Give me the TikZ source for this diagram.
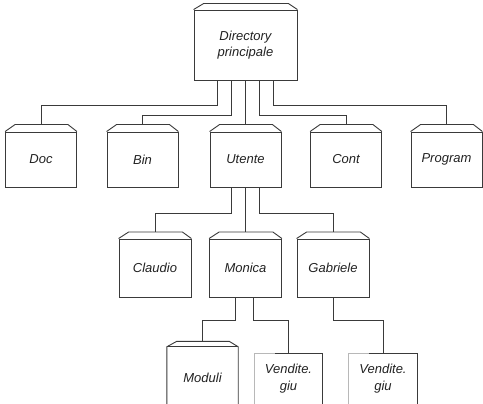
\documentclass[tikz,border=0pt]{standalone}
\usepackage{fontspec}
\setmainfont{Liberation Sans}
\definecolor{linec}{HTML}{3A3A3A}
\definecolor{txt}{HTML}{222222}
\definecolor{faint}{HTML}{B8B8B8}
\begin{document}
\begin{tikzpicture}[x=1pt,y=-1pt,
  line/.style={draw=linec, line width=0.9pt},
  lbl/.style={inner sep=0pt, align=center, text=txt,
    font=\fontsize{13}{16.5}\selectfont\itshape},
  box/.style={lbl, line, rectangle},
  top box/.style={box, minimum width=103pt, minimum height=70pt},
  lvl1/.style={box, minimum width=71pt, minimum height=55pt},
  lvl2/.style={box, minimum width=72pt, minimum height=58pt},
  openbox/.style={lbl, rectangle, draw=none}
]
\useasboundingbox (0,0) rectangle (483,404);
\fill[white] (0,0) rectangle (483,404);

% nodes
\node[top box] (top) at (245.5,45) {Directory\\principale};
\node[lvl1] (doc)     at (41,159.5)    {Doc};
\node[lvl1] (bin)     at (142.5,159.5) {Bin};
\node[lvl1] (utente)  at (245.5,159.5) {Utente};
\node[lvl1] (cont)    at (346,159.5)   {Cont};
\node[lvl1] (program) at (446.5,159.5) {Program};
\node[lvl2] (claudio)  at (155,268)   {Claudio};
\node[lvl2] (monica)   at (245.5,268) {Monica};
\node[lvl2] (gabriele) at (333,268)   {Gabriele};
\node[openbox, minimum width=71pt, minimum height=62pt] (moduli) at (202.5,378) {Moduli};
\node[openbox, minimum width=67pt, minimum height=49pt] (vend1) at (288.5,378.5) {Vendite.\\giu};
\node[openbox, minimum width=68pt, minimum height=49pt] (vend2) at (383,378.5) {Vendite.\\giu};

% lids
\foreach \n/\r in {top/6, doc/7, bin/7, utente/7, cont/7, program/7,
                   claudio/6.5, monica/6.5, gabriele/6.5}
  \draw[line] (\n.north west) -- ([xshift=10pt,yshift=\r pt]\n.north west)
     -- ([xshift=-9pt,yshift=\r pt]\n.north east) -- (\n.north east);

% open boxes at the bottom
\draw[line] ([yshift=-10pt]moduli.south west) -- (moduli.north west)
   -- ([xshift=10pt,yshift=5.5pt]moduli.north west)
   -- ([xshift=-9pt,yshift=5.5pt]moduli.north east) -- (moduli.north east)
   -- ([yshift=-10pt]moduli.south east);
\draw[line] (moduli.north west) -- (moduli.north east);
\foreach \n in {vend1, vend2} {
  \draw[line, draw=faint] ([yshift=-10pt]\n.south west) -- (\n.north west)
     -- ([xshift=20pt]\n.north west);
  \draw[line] ([xshift=20pt]\n.north west) -- (\n.north east)
     -- ([yshift=-10pt]\n.south east);
}

% connectors from the main directory
\draw[line] ([xshift=-28pt]top.south) -- ++(0,25) -| ([yshift=7pt]doc.north);
\draw[line] ([xshift=-14pt]top.south) -- ++(0,35) -| ([yshift=7pt]bin.north);
\draw[line] (top.south) -- ([yshift=7pt]utente.north);
\draw[line] ([xshift=14pt]top.south) -- ++(0,35) -| ([yshift=7pt]cont.north);
\draw[line] ([xshift=28pt]top.south) -- ++(0,25) -| ([yshift=7pt]program.north);

% connectors from Utente
\draw[line] ([xshift=-14pt]utente.south) -- ++(0,26) -| ([yshift=6.5pt]claudio.north);
\draw[line] (utente.south) -- ([yshift=6.5pt]monica.north);
\draw[line] ([xshift=14pt]utente.south) -- ++(0,26) -| ([yshift=6.5pt]gabriele.north);

% connectors from Monica and Gabriele
\draw[line] ([xshift=-10pt]monica.south) -- ++(0,23) -| ([yshift=5.5pt]moduli.north);
\draw[line] ([xshift=8pt]monica.south) -- ++(0,23) -| (vend1.north);
\draw[line] (gabriele.south) -- ++(0,23) -| (vend2.north);
\end{tikzpicture}
\end{document}
